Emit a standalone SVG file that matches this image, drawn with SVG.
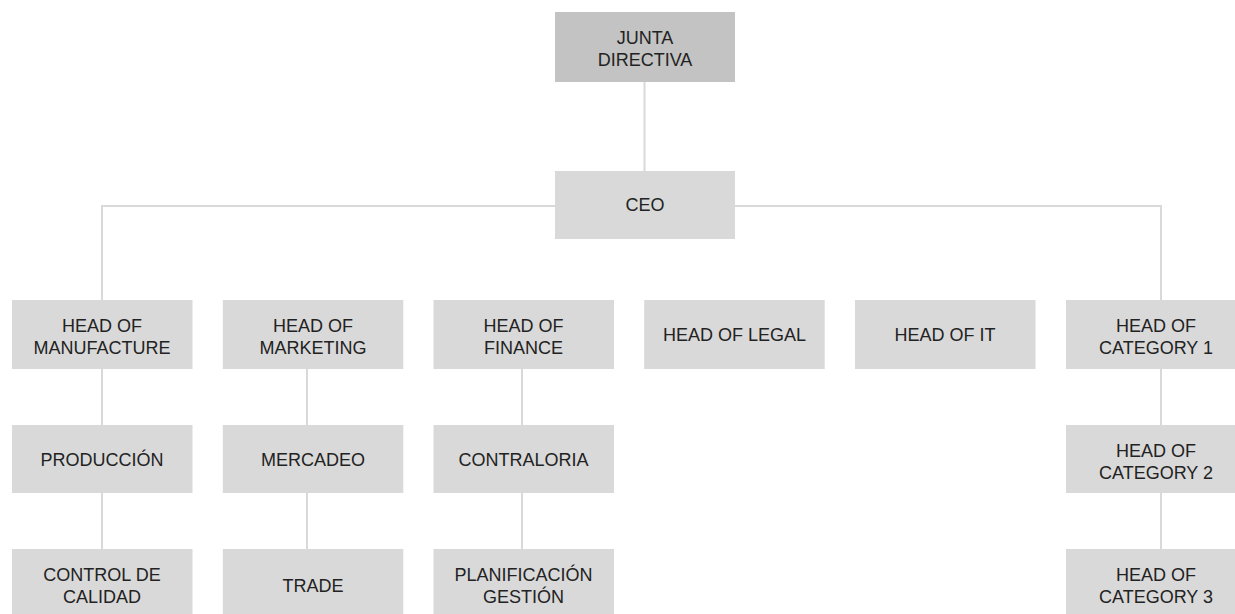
<svg xmlns="http://www.w3.org/2000/svg" width="1235" height="614" viewBox="0 0 1235 614">
<style>
.box{fill:#d9d9d9}
.top{fill:#c3c3c3}
.t{font-family:"Liberation Sans",Arial,sans-serif;font-size:18px;fill:#222;text-anchor:middle}
.c{fill:none;stroke:#d9d9d9;stroke-width:2}
</style>
<rect width="1235" height="614" fill="#fff"/>
<g id="connectors">
<path class="c" d="M644.5 82V171"/>
<path class="c" d="M102 300V206H1161V300"/>
<path class="c" d="M102 369V425M102 493V549"/>
<path class="c" d="M307 369V425M307 493V549"/>
<path class="c" d="M522 369V425M522 493V549"/>
<path class="c" d="M1161 369V425M1161 493V549"/>
</g>
<g id="junta"><rect class="top" x="555" y="12" width="180" height="70"/><text class="t" x="645" y="44">JUNTA</text><text class="t" x="645" y="66">DIRECTIVA</text></g>
<g id="ceo"><rect class="box" x="555" y="171" width="180" height="68"/><text class="t" x="645" y="211">CEO</text></g>
<g id="manufacture"><rect class="box" x="12" y="300" width="180.5" height="69"/><text class="t" x="102" y="332">HEAD OF</text><text class="t" x="102" y="354">MANUFACTURE</text></g>
<g id="marketing"><rect class="box" x="222.8" y="300" width="180.5" height="69"/><text class="t" x="313" y="332">HEAD OF</text><text class="t" x="313" y="354">MARKETING</text></g>
<g id="finance"><rect class="box" x="433.5" y="300" width="180.5" height="69"/><text class="t" x="523.5" y="332">HEAD OF</text><text class="t" x="523.5" y="354">FINANCE</text></g>
<g id="legal"><rect class="box" x="644.2" y="300" width="180.5" height="69"/><text class="t" x="734.5" y="341">HEAD OF LEGAL</text></g>
<g id="it"><rect class="box" x="855" y="300" width="180.5" height="69"/><text class="t" x="945" y="341">HEAD OF IT</text></g>
<g id="cat1"><rect class="box" x="1066" y="300" width="180.5" height="69"/><text class="t" x="1156" y="332">HEAD OF</text><text class="t" x="1156" y="354">CATEGORY 1</text></g>
<g id="produccion"><rect class="box" x="12" y="425" width="180.5" height="68"/><text class="t" x="102" y="466">PRODUCCIÓN</text></g>
<g id="mercadeo"><rect class="box" x="222.8" y="425" width="180.5" height="68"/><text class="t" x="313" y="466">MERCADEO</text></g>
<g id="contraloria"><rect class="box" x="433.5" y="425" width="180.5" height="68"/><text class="t" x="523.5" y="466">CONTRALORIA</text></g>
<g id="cat2"><rect class="box" x="1066" y="425" width="180.5" height="68"/><text class="t" x="1156" y="457">HEAD OF</text><text class="t" x="1156" y="479">CATEGORY 2</text></g>
<g id="calidad"><rect class="box" x="12" y="549" width="180.5" height="69"/><text class="t" x="102" y="581">CONTROL DE</text><text class="t" x="102" y="603">CALIDAD</text></g>
<g id="trade"><rect class="box" x="222.8" y="549" width="180.5" height="69"/><text class="t" x="313" y="592">TRADE</text></g>
<g id="planificacion"><rect class="box" x="433.5" y="549" width="180.5" height="69"/><text class="t" x="523.5" y="581">PLANIFICACIÓN</text><text class="t" x="523.5" y="603">GESTIÓN</text></g>
<g id="cat3"><rect class="box" x="1066" y="549" width="180.5" height="69"/><text class="t" x="1156" y="581">HEAD OF</text><text class="t" x="1156" y="603">CATEGORY 3</text></g>
</svg>
